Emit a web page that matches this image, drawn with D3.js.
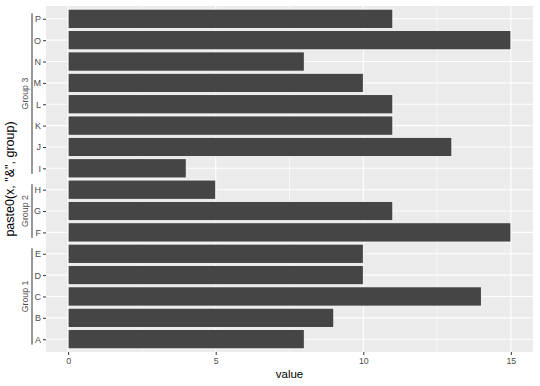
<!DOCTYPE html>
<html>
<head>
<meta charset="utf-8">
<script src="https://cdn.jsdelivr.net/npm/d3@7"></script>
<style>
  body { margin: 0; background: #fff; }
  svg { font-family: "Liberation Sans", Arial, sans-serif; }
</style>
</head>
<body>
<div id="chart"></div>
<script>
    // bar labels, bottom to top
    var categories = ["A", "B", "C", "D", "E", "F", "G", "H", "I", "J", "K", "L", "M", "N", "O", "P"];
    var values = [8, 9, 14, 10, 10, 15, 11, 5, 4, 13, 11, 11, 10, 8, 15, 11];
    var groupNames = ["Group 1", "Group 2", "Group 3"];
    var groupMembers = [["A", "B", "C", "D", "E"], ["F", "G", "H"], ["I", "J", "K", "L", "M", "N", "O", "P"]];
    var xTicks = [0, 5, 10, 15];
    var xMinor = [2.5, 7.5, 12.5];

    var data = categories.map(function (c, i) { return { label: c, value: values[i] }; });

    var margin = { top: 6, right: 7, bottom: 34, left: 46 },
        width = 540 - margin.left - margin.right,
        height = 386 - margin.top - margin.bottom;

    // ggplot-style expansion: 5% on continuous, 0.6 on discrete
    var xMax = d3.max(values);
    var xScale = d3.scaleLinear()
        .domain([-xMax * 0.05, xMax * 1.05])
        .range([0, width]);

    var n = categories.length;
    var yPos = d3.scaleLinear()
        .domain([0.4, n + 0.6])
        .range([height, 0]);
    var step = height / (n + 0.2);
    var yScale = function (label) { return yPos(categories.indexOf(label) + 1); };

    var svg = d3.select('#chart')
        .append('svg')
        .attr('width', 540)
        .attr('height', 386);

    var g = svg.append('g').attr('transform', 'translate(' + margin.left + ',' + margin.top + ')');

    // panel
    g.append('rect')
        .attr('width', width)
        .attr('height', height)
        .attr('fill', '#ebebeb');

    g.selectAll('.minor')
        .data(xMinor)
        .enter()
        .append('line')
        .attr('x1', function (d) { return xScale(d); })
        .attr('x2', function (d) { return xScale(d); })
        .attr('y1', 0)
        .attr('y2', height)
        .attr('stroke', '#fff')
        .attr('stroke-width', 0.6);

    g.selectAll('.vmajor')
        .data(xTicks)
        .enter()
        .append('line')
        .attr('x1', function (d) { return xScale(d); })
        .attr('x2', function (d) { return xScale(d); })
        .attr('y1', 0)
        .attr('y2', height)
        .attr('stroke', '#fff')
        .attr('stroke-width', 1.1);

    g.selectAll('.hmajor')
        .data(categories)
        .enter()
        .append('line')
        .attr('x1', 0)
        .attr('x2', width)
        .attr('y1', function (d) { return yScale(d); })
        .attr('y2', function (d) { return yScale(d); })
        .attr('stroke', '#fff')
        .attr('stroke-width', 1.1);

    // bars
    var barH = step * 0.9;
    g.selectAll('.bar')
        .data(data)
        .enter()
        .append('rect')
        .attr('class', 'bar')
        .attr('x', xScale(0))
        .attr('y', function (d) { return yScale(d.label) - barH / 2; })
        .attr('width', function (d) { return xScale(d.value) - xScale(0); })
        .attr('height', barH)
        .attr('fill', '#454545')
        .attr('stroke', '#fff')
        .attr('stroke-width', 0.8);

    // x axis
    var xAxis = g.append('g')
        .attr('transform', 'translate(0,' + height + ')')
        .call(d3.axisBottom(xScale).tickValues(xTicks).tickSize(3).tickPadding(3));
    xAxis.select('.domain').remove();
    xAxis.selectAll('line').attr('stroke', '#333');
    xAxis.selectAll('text').attr('fill', '#4d4d4d').style('font-size', '8.8px');

    // y axis (letters)
    var yAxis = g.append('g')
        .call(d3.axisLeft(yPos).tickValues(d3.range(1, n + 1)).tickFormat(function (d) { return categories[d - 1]; }).tickSize(3).tickPadding(2));
    yAxis.select('.domain').remove();
    yAxis.selectAll('line').attr('stroke', '#333');
    yAxis.selectAll('text').attr('fill', '#4d4d4d').style('font-size', '9px');

    // nested group brackets
    var bracketX = -14;
    groupMembers.forEach(function (members, i) {
        var ys = members.map(yScale);
        var y0 = d3.min(ys) - 5.5, y1 = d3.max(ys) + 5.5;
        g.append('line')
            .attr('x1', bracketX).attr('x2', bracketX)
            .attr('y1', y0).attr('y2', y1)
            .attr('stroke', '#333')
            .attr('stroke-width', 1);
        g.append('text')
            .attr('transform', 'translate(' + (bracketX - 4) + ',' + ((y0 + y1) / 2) + ') rotate(-90)')
            .attr('text-anchor', 'middle')
            .attr('fill', '#4d4d4d')
            .style('font-size', '8.8px')
            .text(groupNames[i]);
    });

    // axis titles
    svg.append('text')
        .attr('x', margin.left + width / 2)
        .attr('y', 378)
        .attr('text-anchor', 'middle')
        .style('font-size', '11.5px')
        .text('value');

    svg.append('text')
        .attr('transform', 'translate(14,' + (margin.top + height / 2) + ') rotate(-90)')
        .attr('text-anchor', 'middle')
        .style('font-size', '12.5px')
        .text('paste0(x, "&", group)');
</script>
</body>
</html>
